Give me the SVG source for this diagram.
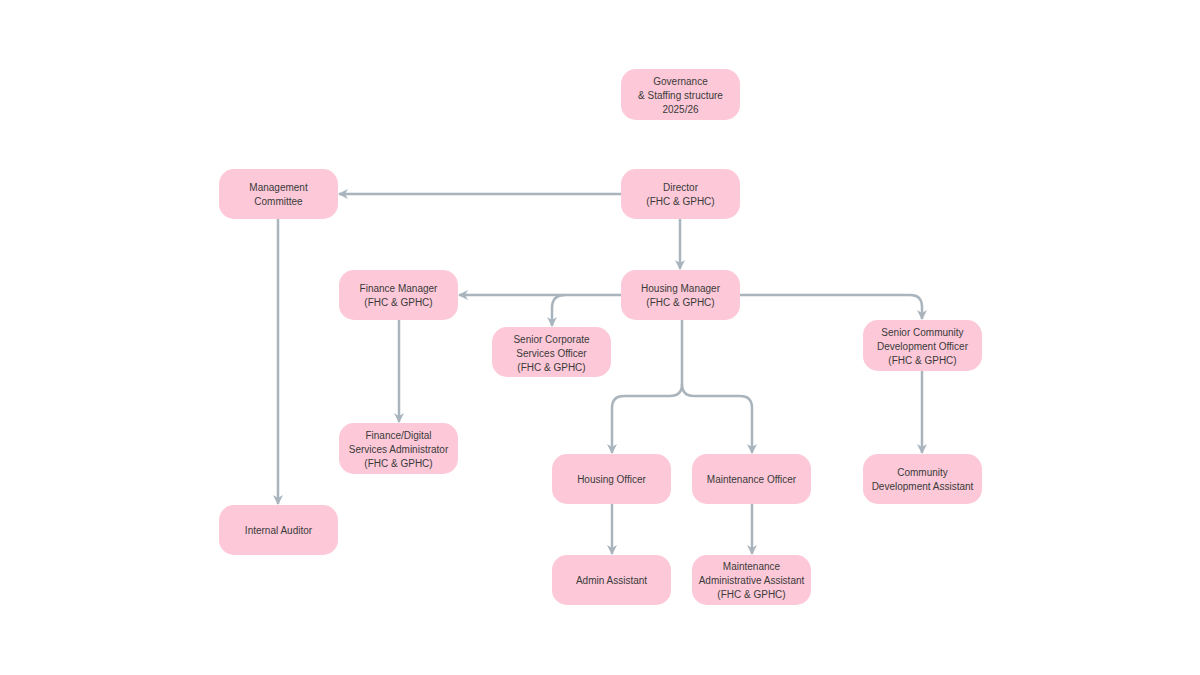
<svg xmlns="http://www.w3.org/2000/svg" width="1200" height="675" viewBox="0 0 1200 675">
<defs>
<marker id="arr" viewBox="0 0 10 10" refX="9" refY="5" markerWidth="4" markerHeight="4" orient="auto" markerUnits="strokeWidth">
<path d="M0,0 L10,5 L0,10 L3,5 Z" fill="#A9B4BD"/>
</marker>
<style>
.n rect{fill:#FDC9D8;}
.n text{font-family:"Liberation Sans","DejaVu Sans",sans-serif;font-size:10px;fill:#3a3a3a;text-anchor:middle;}
.c path{fill:none;stroke:#A9B4BD;stroke-width:2.5;marker-end:url(#arr);}
</style>
</defs>
<rect width="1200" height="675" fill="#ffffff"/>
<g class="c" id="connectors">
<path d="M621,194 H339"/>
<path d="M680,219 V269"/>
<path d="M278,219 V504"/>
<path d="M621,295 H459"/>
<path d="M565,295 Q552,295 552,308 V326"/>
<path d="M740,295 H910 Q922,295 922,307 V319"/>
<path d="M399,320 V422"/>
<path d="M682,320 V384 Q682,396 670,396 H624 Q612,396 612,408 V453"/>
<path d="M682,384 Q682,396 694,396 H740 Q752,396 752,408 V453"/>
<path d="M922,371 V453"/>
<path d="M612,504 V554"/>
<path d="M752,504 V554"/>
</g>
<g class="n" id="governance"><rect x="621" y="69" width="119" height="51" rx="15"/><text x="680.5" y="85">Governance</text><text x="680.5" y="99">&amp; Staffing structure</text><text x="680.5" y="113">2025/26</text></g>
<g class="n" id="director"><rect x="621" y="169" width="119" height="50" rx="15"/><text x="680.5" y="191">Director</text><text x="680.5" y="205">(FHC &amp; GPHC)</text></g>
<g class="n" id="management-committee"><rect x="219" y="169" width="119" height="50" rx="15"/><text x="278.5" y="191">Management</text><text x="278.5" y="205">Committee</text></g>
<g class="n" id="housing-manager"><rect x="621" y="270" width="119" height="50" rx="15"/><text x="680.5" y="292">Housing Manager</text><text x="680.5" y="306">(FHC &amp; GPHC)</text></g>
<g class="n" id="finance-manager"><rect x="339" y="270" width="119" height="50" rx="15"/><text x="398.5" y="292">Finance Manager</text><text x="398.5" y="306">(FHC &amp; GPHC)</text></g>
<g class="n" id="senior-corporate"><rect x="492" y="327" width="119" height="50" rx="15"/><text x="551.5" y="343">Senior Corporate</text><text x="551.5" y="357">Services Officer</text><text x="551.5" y="371">(FHC &amp; GPHC)</text></g>
<g class="n" id="senior-community"><rect x="863" y="320" width="119" height="51" rx="15"/><text x="922.5" y="336">Senior Community</text><text x="922.5" y="350">Development Officer</text><text x="922.5" y="364">(FHC &amp; GPHC)</text></g>
<g class="n" id="finance-digital"><rect x="339" y="423" width="119" height="51" rx="15"/><text x="398.5" y="439">Finance/Digital</text><text x="398.5" y="453">Services Administrator</text><text x="398.5" y="467">(FHC &amp; GPHC)</text></g>
<g class="n" id="housing-officer"><rect x="552" y="454" width="119" height="50" rx="15"/><text x="611.5" y="483">Housing Officer</text></g>
<g class="n" id="maintenance-officer"><rect x="692" y="454" width="119" height="50" rx="15"/><text x="751.5" y="483">Maintenance Officer</text></g>
<g class="n" id="community-assistant"><rect x="863" y="454" width="119" height="50" rx="15"/><text x="922.5" y="476">Community</text><text x="922.5" y="490">Development Assistant</text></g>
<g class="n" id="internal-auditor"><rect x="219" y="505" width="119" height="50" rx="15"/><text x="278.5" y="534">Internal Auditor</text></g>
<g class="n" id="admin-assistant"><rect x="552" y="555" width="119" height="50" rx="15"/><text x="611.5" y="584">Admin Assistant</text></g>
<g class="n" id="maintenance-admin"><rect x="692" y="555" width="119" height="50" rx="15"/><text x="751.5" y="570">Maintenance</text><text x="751.5" y="584">Administrative Assistant</text><text x="751.5" y="598">(FHC &amp; GPHC)</text></g>
</svg>
